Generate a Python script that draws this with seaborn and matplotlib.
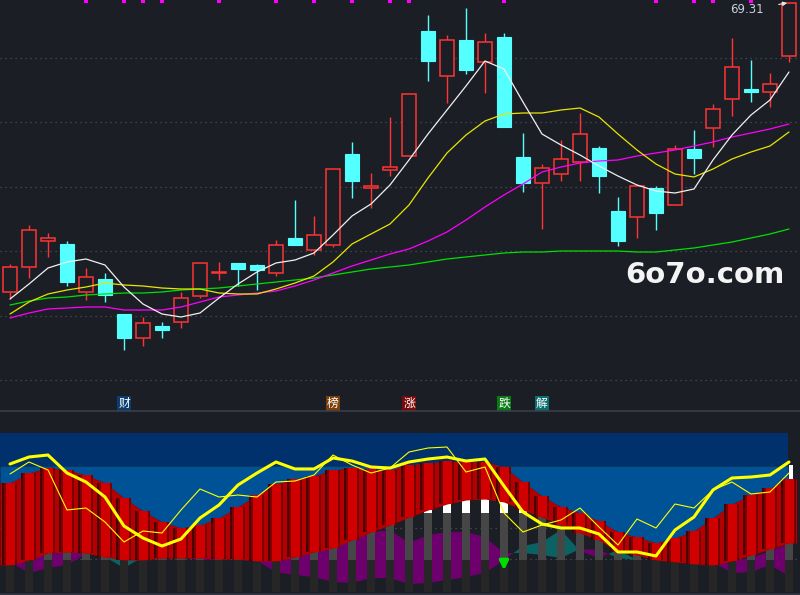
import numpy as np
import matplotlib
matplotlib.use("Agg")
import matplotlib.pyplot as plt
import seaborn as sns

# ---- main K-line panel (price) ----
opens = [54.86, 56.11, 57.41, 57.26, 54.86, 55.51, 53.76, 52.56, 53.16, 53.36, 54.66, 55.81, 56.31, 56.21,
         55.81, 57.56, 56.96, 57.21, 61.76, 60.06, 60.96, 61.66, 67.91, 65.66, 67.46, 66.36, 67.61, 61.61,
         60.31, 60.76, 61.36, 62.06, 58.91, 58.61, 60.06, 59.21, 62.01, 63.06, 64.51, 65.01, 64.86, 66.66]
closes = [56.11, 57.96, 57.56, 55.36, 55.61, 54.71, 52.56, 53.31, 52.96, 54.56, 56.31, 55.86, 56.01, 55.96,
          57.21, 57.21, 57.71, 61.01, 60.41, 60.16, 61.11, 64.76, 66.41, 67.46, 65.96, 67.36, 63.11, 60.31,
          61.06, 61.51, 62.76, 60.66, 57.41, 60.16, 58.81, 62.01, 61.56, 64.01, 66.11, 64.86, 65.26, 69.31]
highs = [56.26, 58.21, 57.81, 57.41, 56.06, 55.81, 53.76, 53.61, 53.36, 54.86, 56.31, 56.36, 56.31, 56.26,
         57.46, 59.46, 58.66, 61.01, 62.36, 60.81, 63.61, 64.76, 68.71, 67.71, 69.06, 67.81, 67.81, 62.81,
         61.26, 62.46, 63.81, 62.16, 59.61, 60.26, 60.16, 62.21, 62.96, 64.26, 67.56, 66.46, 65.81, 69.31]
lows = [54.51, 55.56, 56.61, 55.16, 54.46, 54.36, 51.96, 52.16, 52.56, 53.06, 54.56, 55.46, 55.16, 54.96,
        55.66, 57.21, 56.71, 57.11, 59.56, 59.06, 60.66, 61.66, 65.41, 64.31, 65.76, 64.81, 63.11, 59.86,
        58.01, 60.41, 60.41, 59.81, 57.16, 57.56, 57.96, 59.21, 60.76, 62.11, 63.66, 64.36, 64.11, 66.36]

ma5 = [54.51, 55.26, 56.06, 56.36, 56.51, 56.21, 55.11, 54.26, 53.76, 53.61, 53.81, 54.56, 55.26, 55.86,
       56.31, 56.46, 56.81, 57.71, 58.66, 59.26, 60.21, 61.46, 62.76, 63.96, 65.16, 66.41, 66.01, 64.36,
       62.76, 62.21, 61.71, 61.16, 60.66, 60.21, 59.91, 59.81, 60.01, 61.46, 62.71, 63.71, 64.46, 65.86]
ma10 = [53.76, 54.36, 54.76, 54.96, 55.11, 55.31, 55.21, 55.16, 55.06, 55.01, 55.01, 54.81, 54.76, 54.76,
        55.01, 55.31, 55.66, 56.36, 57.26, 57.76, 58.26, 59.21, 60.56, 61.81, 62.71, 63.41, 63.76, 63.81,
        63.81, 63.96, 64.06, 63.61, 62.76, 61.96, 61.26, 60.76, 60.61, 61.01, 61.51, 61.86, 62.16, 62.86]
ma20 = [53.56, 53.81, 54.01, 54.06, 54.11, 54.11, 53.96, 53.96, 53.96, 54.11, 54.36, 54.61, 54.71, 54.81,
        54.91, 55.16, 55.46, 55.81, 56.16, 56.46, 56.76, 57.01, 57.41, 57.86, 58.46, 59.11, 59.71, 60.26,
        60.86, 61.11, 61.31, 61.41, 61.46, 61.66, 61.81, 61.96, 62.16, 62.36, 62.61, 62.81, 63.01, 63.26]
ma60 = [54.21, 54.41, 54.56, 54.61, 54.71, 54.76, 54.81, 54.81, 54.86, 54.96, 55.01, 55.06, 55.16, 55.26,
        55.36, 55.46, 55.56, 55.71, 55.86, 56.01, 56.11, 56.21, 56.36, 56.51, 56.61, 56.71, 56.81, 56.86,
        56.86, 56.91, 56.91, 56.91, 56.91, 56.86, 56.86, 56.96, 57.06, 57.21, 57.36, 57.56, 57.76, 58.01]

signal_idx = [4, 6, 7, 8, 11, 14, 16, 18, 20, 21, 26, 34, 36, 37, 39]
tag_idx = [6, 17, 21, 26, 28]
tag_text = ["财", "榜", "涨", "跌", "解"]
tag_colors = ["#0b3d70", "#7a3f0a", "#7a0a0a", "#0a7a14", "#0a6e6e"]
last_price = 69.31
watermark = "6o7o.com"

# ---- lower indicator panel ----
red_top = [112, 122, 127, 125, 120, 112, 97, 84, 73, 67, 70, 77, 88, 100, 111, 116, 119, 125, 127, 126, 125,
           130, 132, 134, 133, 133, 128, 113, 99, 88, 82, 74, 63, 58, 52, 57, 64, 77, 91, 100, 107, 116]
red_bottom = [30, 35, 42, 43, 42, 38, 35, 35, 37, 37, 37, 36, 36, 34, 34, 38, 43, 47, 55, 63, 70,
              78, 85, 91, 95, 96, 93, 85, 78, 70, 62, 55, 43, 40, 35, 33, 31, 30, 34, 40, 46, 52]
line_thick = [131, 138, 140, 122, 113, 98, 69, 57, 49, 56, 77, 90, 110, 122, 133, 126, 126, 137, 134, 128, 127,
              133, 136, 138, 134, 136, 109, 83, 71, 67, 67, 61, 43, 43, 39, 65, 78, 105, 117, 118, 120, 133]
line_thin = [121, 133, 125, 85, 87, 73, 53, 64, 62, 85, 106, 98, 100, 98, 113, 114, 120, 140, 130, 122, 127,
             143, 147, 148, 123, 128, 82, 63, 70, 75, 87, 68, 50, 76, 67, 91, 87, 105, 113, 101, 103, 122]
cloud_p = [33, 37, 41, 43, 41, 38, 27, 38, 38, 38, 38, 35, 35, 35, 38, 41, 47, 50, 57, 63, 65,
           52, 60, 63, 63, 58, 42, 42, 40, 37, 46, 45, 37, 35, 35, 35, 35, 35, 33, 38, 43, 52]
cloud_q = [33, 22, 27, 30, 41, 38, 38, 38, 38, 38, 35, 35, 35, 34, 23, 20, 18, 13, 12, 17, 17,
           11, 12, 15, 18, 22, 35, 49, 53, 65, 44, 37, 45, 35, 35, 35, 35, 33, 22, 23, 30, 19]
arrow_idx = 26

bg = "#1c1e26"
up_col = "#ff3434"
down_col = "#54ffff"

sns.set_theme(style="dark", rc={"axes.facecolor": bg, "figure.facecolor": bg,
                                "patch.edgecolor": "none", "patch.linewidth": 0})
plt.rcParams["font.family"] = ["Noto Sans CJK SC", "DejaVu Sans"]

n = len(opens)
idx = np.arange(n)
x_lo, x_hi = -0.526, 41.58

fig = plt.figure(figsize=(8, 5.95), dpi=100)
ax = fig.add_axes([0, 185 / 595, 1, 410 / 595])
ax2 = fig.add_axes([0, 0, 1, 163 / 595])

# ---------------- main panel ----------------
o = np.array(opens); c = np.array(closes); h = np.array(highs); l = np.array(lows)
up = c >= o
body_lo = np.minimum(o, c)
body_hi = np.maximum(o, c)
bw = 0.76

ax.vlines(idx[~up], l[~up], h[~up], color=down_col, lw=1, zorder=3)
ax.bar(idx[~up], body_hi[~up] - body_lo[~up], bottom=body_lo[~up], width=bw,
       color=down_col, edgecolor=down_col, lw=0.8, zorder=4)
ax.vlines(idx[up], l[up], body_lo[up], color=up_col, lw=1, zorder=3)
ax.vlines(idx[up], body_hi[up], h[up], color=up_col, lw=1, zorder=3)
ax.bar(idx[up], np.maximum(body_hi[up] - body_lo[up], 0.03), bottom=body_lo[up], width=bw,
       facecolor=bg, edgecolor=up_col, lw=1.1, zorder=4)

for series, col in [(ma60, "#00e000"), (ma20, "#ff00ff"), (ma10, "#e6e600"), (ma5, "#f0f0f0")]:
    sns.lineplot(x=idx, y=series, ax=ax, color=col, lw=0.9, estimator=None, legend=False, zorder=5)

# signal squares at the top edge
ax.bar(signal_idx, 0.2, bottom=69.32, width=0.22, color="#ff00ff", ec="none", zorder=6)

ax.annotate(f"{last_price:.2f}", xy=(n - 1 - 0.1, last_price), xytext=(-29, -5), textcoords="offset points",
            ha="center", va="center", fontsize=8.5, color="#c6d2de", family=["DejaVu Sans"],
            arrowprops=dict(arrowstyle="-|>", color="#e8e8e8", lw=0.8, mutation_scale=6,
                            shrinkA=9, shrinkB=0), zorder=7)

ax.text(0.881, 0.329, watermark, transform=ax.transAxes, ha="center", va="center",
        fontsize=21, fontweight="bold", color="#f4f4f4", family=["DejaVu Sans"])

for i, t, fc in zip(tag_idx, tag_text, tag_colors):
    ax.text(i, 0.016, t, transform=ax.get_xaxis_transform(), ha="center", va="center",
            fontsize=8.5, color="white",
            bbox=dict(boxstyle="square,pad=0.08", fc=fc, ec="none"))

ax.set_xlim(x_lo, x_hi)
ax.set_ylim(48.96, 69.46)
ax.set_yticks(np.linspace(50.46, 66.56, 6))
ax.set_xticks([])
ax.grid(axis="y", color="#4c505a", ls=(0, (1, 3)), lw=0.9)
ax.tick_params(left=False, labelleft=False)
ax.set_ylabel(""); ax.set_xlabel("")
for s in ax.spines.values():
    s.set_visible(False)

fig.add_artist(plt.Line2D([0, 1], [184 / 595, 184 / 595], color="#3a3e4a", lw=1.2))

# ---------------- lower panel ----------------
blue_end = n - 1 - 0.05
frac_end = (blue_end - x_lo) / (x_hi - x_lo)
ax2.axhspan(129, 162, xmin=0, xmax=frac_end, color="#00316c", zorder=0.5, lw=0)
xs = np.linspace(x_lo, blue_end, 600)
ax2.fill_between(xs, np.interp(xs, idx, red_top), 129, color="#005296", lw=0, zorder=0.6)

for gy in np.linspace(36, 98, 3):
    ax2.axhline(gy, color="#4c505a", ls=(0, (1, 3)), lw=0.9, zorder=0.4)

cp = np.array(cloud_p); cq = np.array(cloud_q)
ax2.fill_between(idx, cp, cq, where=cp >= cq, interpolate=True, color="#6e006e", lw=0, zorder=1)
ax2.fill_between(idx, cp, cq, where=cq > cp, interpolate=True, color="#0a6262", lw=0, zorder=1)

rt = np.array(red_top); rb = np.array(red_bottom)
col_w = 0.4
gray_top = np.minimum(rb, 82)
white_h = np.clip(rb - 82, 0, None)
ax2.bar(idx, 32, bottom=3, width=col_w, color="#262626", ec="none", zorder=2)
ax2.bar(idx, gray_top - 35, bottom=35, width=col_w, color="#464646", ec="none", zorder=2)
ax2.bar(idx, white_h, bottom=82, width=col_w, color="white", ec="none", zorder=2)

xr = np.linspace(x_lo, n - 1 + 0.4, 600)
ax2.fill_between(xr, np.interp(xr, idx, red_bottom), np.interp(xr, idx, red_top),
                 color="#b40000", lw=0, zorder=3)

strips = [(0.0, 0.79, "#a80000"), (-0.355, 0.08, "#4a0000"), (-0.27, 0.10, "#7e0000"),
          (0.02, 0.50, "#d00000"), (0.33, 0.13, "#760000")]
for off, w, col in strips:
    ax2.bar(idx + off, rt - rb, bottom=rb, width=w, color=col, ec="none", lw=0, zorder=4)

ax2.bar(n - 1 + 0.12, 130 - rt[-1], bottom=rt[-1], width=0.22, color="white", ec="none", zorder=4)

sns.lineplot(x=idx, y=line_thin, ax=ax2, color="#ffff00", lw=0.8, estimator=None, legend=False, zorder=5)
sns.lineplot(x=idx, y=line_thick, ax=ax2, color="#ffff00", lw=2.2, estimator=None, legend=False, zorder=5)

ax2.annotate("", xy=(arrow_idx, 22), xytext=(arrow_idx, 36),
             arrowprops=dict(arrowstyle="-|>", color="#00dd00", lw=2.4, mutation_scale=13), zorder=6)

ax2.axhline(1, color="#30343e", lw=2, zorder=6)
ax2.set_xlim(x_lo, x_hi)
ax2.set_ylim(0, 163)
ax2.set_xticks([]); ax2.set_yticks([])
ax2.set_ylabel(""); ax2.set_xlabel("")
for s in ax2.spines.values():
    s.set_visible(False)

fig.savefig("out.png", dpi=100, facecolor=bg)
